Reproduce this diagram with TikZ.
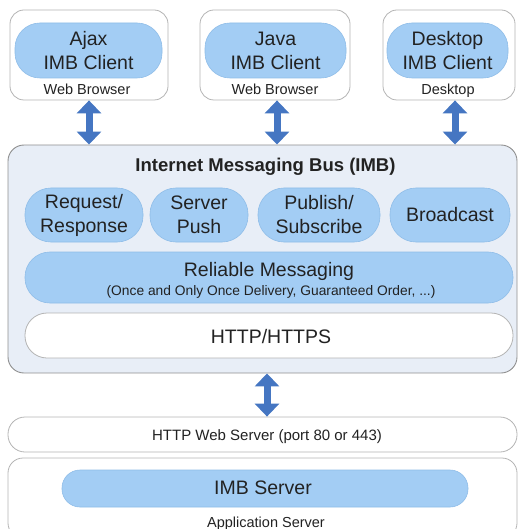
\documentclass[tikz,border=0pt]{standalone}
\usepackage{fontspec}
\setmainfont{Liberation Sans}
\usetikzlibrary{arrows.meta}
\definecolor{pillfill}{HTML}{A3CDF4}
\definecolor{pillline}{HTML}{8FBDE8}
\definecolor{boxline}{HTML}{B4B4B4}
\definecolor{busfill}{HTML}{E8EEF7}
\definecolor{busline}{HTML}{909090}
\definecolor{arrowc}{HTML}{4576C2}
\definecolor{txt}{HTML}{222222}
\begin{document}
\begin{tikzpicture}[x=1pt,y=-1pt,
  outerbox/.style={draw=boxline, fill=white, line width=0.8pt, rounded corners=14pt, inner sep=0pt},
  busbox/.style={draw=busline, fill=busfill, line width=0.9pt, rounded corners=16pt, inner sep=0pt},
  pillbox/.style={draw=pillline, fill=pillfill, line width=0.6pt, inner sep=0pt, align=center, text=txt,
    font=\fontsize{19.5}{24}\selectfont},
  whitepill/.style={draw=boxline, fill=white, line width=0.8pt, inner sep=0pt},
  bigtxt/.style={text=txt, font=\fontsize{19.5}{24}\selectfont, inner sep=0pt, anchor=base},
  smalltxt/.style={text=txt, font=\fontsize{14.5}{17}\selectfont, inner sep=0pt, anchor=base},
  dblarrow/.style={draw=arrowc, line width=7pt, {Triangle[width=24pt,length=13pt]}-{Triangle[width=24pt,length=13pt]}}
]
\useasboundingbox (0,0) rectangle (521,529);
\clip (0,0) rectangle (521,529);

% client boxes
\node[outerbox, minimum width=158pt, minimum height=90pt] (ajaxbox) at (89,55) {};
\node[pillbox, rounded corners=25pt, minimum width=147pt, minimum height=55pt] (ajax) at (88.5,50.5) {Ajax\\IMB Client};
\node[smalltxt] (ajaxlab) at (87,95) {Web Browser};

\node[outerbox, minimum width=150pt, minimum height=90pt] (javabox) at (275,55) {};
\node[pillbox, rounded corners=25pt, minimum width=141pt, minimum height=55pt] (java) at (275.5,50.5) {Java\\IMB Client};
\node[smalltxt] (javalab) at (275,95) {Web Browser};

\node[outerbox, minimum width=132pt, minimum height=90pt] (deskbox) at (449,55) {};
\node[pillbox, rounded corners=25pt, minimum width=121pt, minimum height=55pt] (desk) at (447.5,50.5) {Desktop\\IMB Client};
\node[smalltxt] (desklab) at (448,95) {Desktop};

% bus
\node[busbox, minimum width=509pt, minimum height=228pt] (imb) at (262.5,259) {};
\node[text=txt, font=\fontsize{18.5}{22}\selectfont\bfseries, inner sep=0pt, anchor=base] (imbtitle) at (265.5,172) {Internet Messaging Bus (IMB)};

\node[pillbox, rounded corners=26pt, minimum width=118pt, minimum height=54pt] (req) at (84,215) {Request/\\Response};
\node[pillbox, rounded corners=26pt, minimum width=98pt, minimum height=54pt] (push) at (199,215) {Server\\Push};
\node[pillbox, rounded corners=26pt, minimum width=122pt, minimum height=54pt] (pub) at (319,215) {Publish/\\Subscribe};
\node[pillbox, rounded corners=26pt, minimum width=120pt, minimum height=54pt] (bcast) at (450,215) {Broadcast};

\node[pillbox, rounded corners=25pt, minimum width=488pt, minimum height=51pt] (rel) at (269,277.5) {};
\node[bigtxt] (reltxt) at (269,276) {Reliable Messaging};
\node[text=txt, font=\fontsize{13.8}{16}\selectfont, inner sep=0pt, anchor=base] (relsub) at (271,295) {(Once and Only Once Delivery, Guaranteed Order, ...)};

\node[whitepill, rounded corners=22pt, minimum width=488pt, minimum height=45pt] (http) at (269,335.5) {};
\node[bigtxt] (httptxt) at (271,343) {HTTP/HTTPS};

% server side
\node[outerbox, rounded corners=17pt, minimum width=509pt, minimum height=35pt] (web) at (262.5,434.5) {};
\node[text=txt, font=\fontsize{15}{18}\selectfont, inner sep=0pt, anchor=base] (webtxt) at (267,440) {HTTP Web Server (port 80 or 443)};

\node[outerbox, rounded corners=15pt, minimum width=509pt, minimum height=80pt] (app) at (262.5,498) {};
\node[pillbox, rounded corners=18pt, minimum width=406pt, minimum height=37pt] (imbserver) at (265,488.5) {};
\node[bigtxt] (imbservertxt) at (263,494) {IMB Server};
\node[smalltxt] (applab) at (266,527) {Application Server};

% arrows
\draw[dblarrow] (ajaxbox.south) -- (ajaxbox.south |- imb.north);
\draw[dblarrow] ([xshift=2pt]javabox.south) -- ([xshift=2pt]javabox.south |- imb.north);
\draw[dblarrow] ([xshift=6pt]deskbox.south) -- ([xshift=6pt]deskbox.south |- imb.north);
\draw[dblarrow] ([xshift=4.5pt]imb.south) -- ([xshift=4.5pt]imb.south |- web.north);
\end{tikzpicture}
\end{document}
